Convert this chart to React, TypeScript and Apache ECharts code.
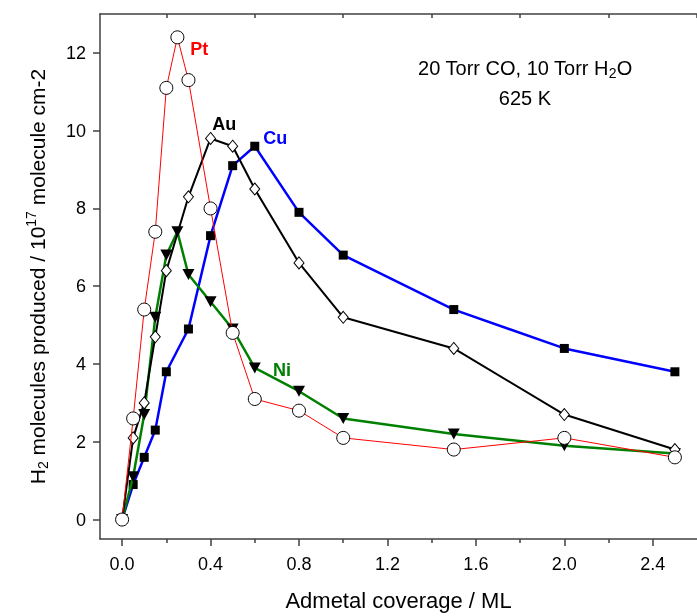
import React, { useEffect, useRef } from 'react';
import * as echarts from 'echarts';

// ---- data ----
const ptX = [0, 0.05, 0.1, 0.15, 0.2, 0.25, 0.3, 0.4, 0.5, 0.6, 0.8, 1.0, 1.5, 2.0, 2.5];
const ptY = [0, 2.6, 5.4, 7.4, 11.1, 12.4, 11.3, 8.0, 4.8, 3.1, 2.8, 2.1, 1.8, 2.1, 1.6];

const auX = [0, 0.05, 0.1, 0.15, 0.2, 0.3, 0.4, 0.5, 0.6, 0.8, 1.0, 1.5, 2.0, 2.5];
const auY = [0, 2.1, 3.0, 4.7, 6.4, 8.3, 9.8, 9.6, 8.5, 6.6, 5.2, 4.4, 2.7, 1.8];

const cuX = [0, 0.05, 0.1, 0.15, 0.2, 0.3, 0.4, 0.5, 0.6, 0.8, 1.0, 1.5, 2.0, 2.5];
const cuY = [0, 0.9, 1.6, 2.3, 3.8, 4.9, 7.3, 9.1, 9.6, 7.9, 6.8, 5.4, 4.4, 3.8];

const niX = [0, 0.05, 0.1, 0.15, 0.2, 0.25, 0.3, 0.4, 0.5, 0.6, 0.8, 1.0, 1.5, 2.0, 2.5];
const niY = [0, 1.1, 2.7, 5.2, 6.8, 7.4, 6.3, 5.6, 4.9, 3.9, 3.3, 2.6, 2.2, 1.9, 1.7];

const xMajorTicks = [0, 0.4, 0.8, 1.2, 1.6, 2.0, 2.4];
const xMinorTicks = [0.2, 0.6, 1.0, 1.4, 1.8, 2.2];
const xTopTicks = [0.2, 0.6, 1.0, 1.4, 1.8, 2.2, 2.6];
const yTicks = [0, 2, 4, 6, 8, 10, 12];

const seriesLabels = [
  { text: 'Pt', x: 0.349, y: 12.09, color: '#ff0000' },
  { text: 'Au', x: 0.462, y: 10.16, color: '#000000' },
  { text: 'Cu', x: 0.693, y: 9.82, color: '#0000ff' },
  { text: 'Ni', x: 0.723, y: 3.84, color: '#008000' },
];
const conditionLines = [
  { text: '20 Torr CO, 10 Torr H{sub|2}O', x: 1.822, y: 11.62 },
  { text: '625 K', x: 1.822, y: 10.85 },
];

const FONT = '"Liberation Sans", Arial, sans-serif';
const AXIS_COLOR = '#404040';

const zip = (xs: number[], ys: number[]) => xs.map((x, i) => [x, ys[i]]);

export default function App() {
  const ref = useRef<HTMLDivElement>(null);
  useEffect(() => {
    if (!ref.current) return;
    const chart = echarts.init(ref.current, undefined, { renderer: 'svg' });
    const axisLine = { show: true, onZero: false, lineStyle: { color: AXIS_COLOR, width: 1.5 } };
    chart.setOption({
      animation: false,
      textStyle: { fontFamily: FONT },
      grid: { left: 100, top: 14, width: 602, height: 525, containLabel: false },
      xAxis: [
        {
          type: 'value', min: -0.1, max: 2.6, position: 'bottom',
          axisLine,
          splitLine: { show: false },
          axisTick: { show: true, inside: false, length: 7, customValues: xMajorTicks, lineStyle: { color: AXIS_COLOR, width: 1.5 } },
          axisLabel: { customValues: xMajorTicks, fontSize: 18, color: '#000', margin: 16, fontFamily: FONT, formatter: (v: number) => v.toFixed(1) },
          name: 'Admetal coverage / ML', nameLocation: 'middle', nameGap: 50,
          nameTextStyle: { fontSize: 22, color: '#000', fontFamily: FONT },
        },
        {
          type: 'value', min: -0.1, max: 2.6, position: 'bottom', gridIndex: 0,
          axisLine: { show: false, onZero: false },
          splitLine: { show: false },
          axisTick: { show: true, inside: false, length: 4, customValues: xMinorTicks, lineStyle: { color: AXIS_COLOR, width: 1.5 } },
          axisLabel: { show: false },
        },
        {
          type: 'value', min: -0.1, max: 2.6, position: 'top', gridIndex: 0,
          axisLine,
          splitLine: { show: false },
          axisTick: { show: true, inside: true, length: 4, customValues: xTopTicks, lineStyle: { color: AXIS_COLOR, width: 1.5 } },
          axisLabel: { show: false },
        },
      ],
      yAxis: {
        type: 'value', min: -0.5, max: 13,
        axisLine,
        splitLine: { show: false },
        axisTick: { show: true, inside: false, length: 7, customValues: yTicks, lineStyle: { color: AXIS_COLOR, width: 1.5 } },
        axisLabel: { customValues: yTicks, fontSize: 18, color: '#000', margin: 14, fontFamily: FONT },
        name: '{a|H}{sub|2}{a| molecules produced / 10}{sup|17}{a| molecule cm-2}',
        nameLocation: 'middle', nameGap: 50,
        nameTextStyle: {
          color: '#000',
          rich: {
            a: { fontSize: 21, fontFamily: FONT, color: '#000', lineHeight: 26, verticalAlign: 'middle' },
            sub: { fontSize: 14, fontFamily: FONT, color: '#000', lineHeight: 26, verticalAlign: 'bottom' },
            sup: { fontSize: 14, fontFamily: FONT, color: '#000', lineHeight: 26, verticalAlign: 'top' },
          },
        },
      },
      series: [
        {
          name: 'Cu', type: 'line', data: zip(cuX, cuY), xAxisIndex: 0,
          lineStyle: { color: '#0000ff', width: 2.5 },
          symbol: 'rect', symbolSize: 9,
          itemStyle: { color: '#000', borderColor: '#000', borderWidth: 0 },
          z: 2,
        },
        {
          name: 'Ni', type: 'line', data: zip(niX, niY), xAxisIndex: 0,
          lineStyle: { color: '#008000', width: 2.5 },
          symbol: 'triangle', symbolSize: [12, 11], symbolRotate: 180,
          itemStyle: { color: '#000', borderColor: '#000', borderWidth: 0 },
          z: 3,
        },
        {
          name: 'Au', type: 'line', data: zip(auX, auY), xAxisIndex: 0,
          lineStyle: { color: '#000000', width: 2 },
          symbol: 'diamond', symbolSize: [10, 12],
          itemStyle: { color: '#fff', borderColor: '#000', borderWidth: 1 },
          z: 4,
        },
        {
          name: 'Pt', type: 'line', data: zip(ptX, ptY), xAxisIndex: 0,
          lineStyle: { color: '#ff0000', width: 1 },
          symbol: 'circle', symbolSize: 13,
          itemStyle: { color: '#fff', borderColor: '#000', borderWidth: 1 },
          z: 5,
        },
      ],
    });

    const graphics: any[] = [];
    seriesLabels.forEach((l) => {
      const [px, py] = chart.convertToPixel({ xAxisIndex: 0, yAxisIndex: 0 }, [l.x, l.y]) as number[];
      graphics.push({
        type: 'text', x: px, y: py, z: 10,
        style: { text: l.text, fill: l.color, font: `bold 18px ${FONT}`, textAlign: 'center', textVerticalAlign: 'middle' },
      });
    });
    conditionLines.forEach((l) => {
      const [px, py] = chart.convertToPixel({ xAxisIndex: 0, yAxisIndex: 0 }, [l.x, l.y]) as number[];
      graphics.push({
        type: 'text', x: px, y: py, z: 10,
        style: {
          text: l.text, fill: '#000', fontSize: 20, fontFamily: FONT, textAlign: 'center', textVerticalAlign: 'middle',
          rich: {
            sub: { fontSize: 14, fontFamily: FONT, fill: '#000', verticalAlign: 'bottom', lineHeight: 24, padding: [8, 0, 0, 0] },
          },
        },
      });
    });
    chart.setOption({ graphic: graphics });

    return () => chart.dispose();
  }, []);
  return <div ref={ref} style={{ position: 'fixed', left: 0, top: 0, width: 697, height: 616 }} />;
}
